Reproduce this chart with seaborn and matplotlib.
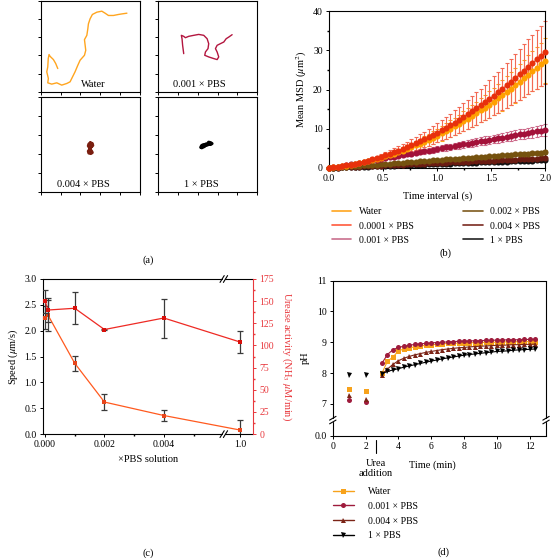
import seaborn as sns
import pandas as pd
import matplotlib.pyplot as plt
from matplotlib.lines import Line2D

# ---------------- (a) trajectories (box units 0-100) ----------------
water_x = [17.2, 15.1, 12.8, 9.4, 8.4, 7.6, 7.1, 6.1, 7.7, 7.1, 11.1, 16.2, 21.2, 26.3, 29.6, 31.3,
           34.6, 37.4, 39.7, 44.1, 45.4, 44.8, 44.1, 46.5, 47.5, 48.1, 49.8, 52.1, 56.6, 61.6,
           64.9, 68.3, 73.3, 78.4, 82.4, 86.9]
water_y = [25.7, 31.2, 35.5, 39.1, 41.0, 36.6, 27.5, 22.1, 14.9, 10.1, 8.7, 10.1, 7.6, 9.4, 11.2, 14.9,
           22.1, 29.3, 34.8, 40.2, 45.6, 51.1, 57.3, 62.0, 69.2, 74.6, 80.1, 84.8, 87.3, 88.4,
           86.2, 83.7, 83.7, 84.8, 85.5, 86.2]
p001_x = [25.9, 24.8, 24.2, 23.5, 25.9, 27.6, 30.9, 36.0, 41.0, 46.1, 49.5, 51.1, 50.4, 47.8,
          47.1, 51.1, 56.2, 59.6, 61.2, 59.6, 57.9, 59.6, 62.9, 66.3, 68.7, 71.3, 74.7]
p001_y = [42.0, 51.1, 58.3, 62.0, 60.9, 59.4, 60.9, 62.0, 63.0, 62.0, 58.3, 52.9, 47.5, 43.8,
          40.2, 38.4, 36.6, 35.5, 38.4, 43.8, 47.5, 51.1, 52.9, 54.7, 58.3, 60.1, 62.7]
p004_x = [50, 52, 52.5, 51, 49, 48, 48.5, 50, 51.5, 50.5, 49.5, 48, 48.5, 50.5, 52, 51, 49, 50]
p004_y = [52, 51, 49, 47.5, 47, 48.5, 50.5, 51.5, 50, 47, 45, 43, 41, 40.5, 41.5, 43.5, 42.5, 44]
p1_x = [43, 44, 46, 47, 48, 50, 51, 53, 54.5, 53, 51, 50, 48, 46, 44]
p1_y = [47, 49, 50, 48.5, 50.5, 51, 52.5, 52, 51, 50, 50.5, 49.5, 49, 47.5, 46.5]

# ---------------- (b) mean MSD ----------------
t_msd = [0.00, 0.04, 0.08, 0.12, 0.16, 0.20, 0.24, 0.28, 0.32, 0.36,
         0.40, 0.44, 0.48, 0.52, 0.56, 0.60, 0.64, 0.68, 0.72, 0.76,
         0.80, 0.84, 0.88, 0.92, 0.96, 1.00, 1.04, 1.08, 1.12, 1.16,
         1.20, 1.24, 1.28, 1.32, 1.36, 1.40, 1.44, 1.48, 1.52, 1.56,
         1.60, 1.64, 1.68, 1.72, 1.76, 1.80, 1.84, 1.88, 1.92, 1.96,
         2.00]
msd_water = [0.00, 0.12, 0.26, 0.41, 0.58, 0.77, 0.98, 1.21, 1.44, 1.71,
             1.99, 2.28, 2.59, 2.93, 3.28, 3.64, 4.03, 4.43, 4.85, 5.29,
             5.74, 6.21, 6.71, 7.21, 7.74, 8.28, 8.84, 9.42, 10.02, 10.63,
             11.26, 11.91, 12.58, 13.26, 13.97, 14.68, 15.42, 16.17, 16.95, 17.74,
             18.55, 19.38, 20.21, 21.08, 21.96, 22.85, 23.76, 24.70, 25.55, 26.40,
             27.30]
err_water = [0.00, 0.03, 0.05, 0.09, 0.12, 0.16, 0.21, 0.25, 0.30, 0.36,
             0.42, 0.48, 0.54, 0.62, 0.69, 0.76, 0.85, 0.93, 1.02, 1.11,
             1.21, 1.30, 1.41, 1.51, 1.63, 1.74, 1.86, 1.98, 2.10, 2.23,
             2.36, 2.50, 2.64, 2.78, 2.93, 3.08, 3.24, 3.40, 3.56, 3.73,
             3.90, 4.07, 4.24, 4.43, 4.61, 4.80, 4.99, 5.19, 5.37, 5.54,
             5.73]
msd_p0001 = [0.00, 0.13, 0.28, 0.45, 0.63, 0.84, 1.07, 1.31, 1.57, 1.86,
             2.16, 2.48, 2.82, 3.18, 3.56, 3.96, 4.38, 4.81, 5.27, 5.75,
             6.24, 6.75, 7.29, 7.84, 8.41, 9.00, 9.61, 10.24, 10.89, 11.55,
             12.24, 12.95, 13.67, 14.41, 15.18, 15.96, 16.76, 17.58, 18.42, 19.28,
             20.16, 21.06, 21.97, 22.91, 23.87, 24.84, 25.83, 26.80, 27.70, 28.60,
             29.50]
err_p0001 = [0.00, 0.03, 0.07, 0.12, 0.17, 0.23, 0.29, 0.35, 0.42, 0.50,
             0.58, 0.67, 0.76, 0.86, 0.96, 1.07, 1.18, 1.30, 1.42, 1.55,
             1.68, 1.82, 1.97, 2.12, 2.27, 2.43, 2.60, 2.76, 2.94, 3.12,
             3.30, 3.50, 3.69, 3.89, 4.10, 4.31, 4.53, 4.75, 4.97, 5.21,
             5.44, 5.69, 5.93, 6.19, 6.44, 6.71, 6.97, 7.24, 7.48, 7.72,
             7.97]
msd_p001 = [0.00, 0.18, 0.37, 0.56, 0.75, 0.94, 1.13, 1.32, 1.52, 1.71,
            1.91, 2.10, 2.30, 2.49, 2.69, 2.88, 3.08, 3.27, 3.47, 3.66,
            3.86, 4.05, 4.25, 4.44, 4.64, 4.83, 5.03, 5.22, 5.42, 5.61,
            5.81, 6.00, 6.20, 6.39, 6.59, 6.78, 6.98, 7.17, 7.37, 7.56,
            7.76, 7.95, 8.15, 8.34, 8.54, 8.73, 8.93, 9.12, 9.32, 9.51,
            9.71]
err_p001 = [0.00, 0.03, 0.06, 0.08, 0.11, 0.14, 0.17, 0.20, 0.23, 0.26,
            0.29, 0.32, 0.35, 0.37, 0.40, 0.43, 0.46, 0.49, 0.52, 0.55,
            0.58, 0.61, 0.64, 0.67, 0.70, 0.72, 0.75, 0.78, 0.81, 0.84,
            0.87, 0.90, 0.93, 0.96, 0.99, 1.02, 1.05, 1.08, 1.10, 1.13,
            1.16, 1.19, 1.22, 1.25, 1.28, 1.31, 1.34, 1.37, 1.40, 1.43,
            1.46]
msd_p002 = [0.00, 0.08, 0.16, 0.24, 0.32, 0.40, 0.48, 0.56, 0.64, 0.72,
            0.80, 0.88, 0.96, 1.04, 1.12, 1.20, 1.28, 1.36, 1.44, 1.52,
            1.60, 1.68, 1.76, 1.84, 1.92, 2.00, 2.08, 2.16, 2.24, 2.32,
            2.40, 2.48, 2.56, 2.64, 2.72, 2.80, 2.88, 2.96, 3.04, 3.12,
            3.20, 3.28, 3.36, 3.44, 3.52, 3.60, 3.68, 3.76, 3.84, 3.92,
            4.00]
err_p002 = [0.00, 0.01, 0.02, 0.03, 0.04, 0.05, 0.06, 0.07, 0.08, 0.09,
            0.10, 0.11, 0.12, 0.13, 0.13, 0.14, 0.15, 0.16, 0.17, 0.18,
            0.19, 0.20, 0.21, 0.22, 0.23, 0.24, 0.25, 0.26, 0.27, 0.28,
            0.29, 0.30, 0.31, 0.32, 0.33, 0.34, 0.35, 0.36, 0.36, 0.37,
            0.38, 0.39, 0.40, 0.41, 0.42, 0.43, 0.44, 0.45, 0.46, 0.47,
            0.48]
msd_p004 = [0.00, 0.05, 0.10, 0.15, 0.20, 0.25, 0.30, 0.35, 0.40, 0.45,
            0.50, 0.55, 0.60, 0.65, 0.70, 0.75, 0.80, 0.85, 0.90, 0.95,
            1.00, 1.05, 1.10, 1.15, 1.20, 1.25, 1.30, 1.35, 1.40, 1.45,
            1.50, 1.55, 1.60, 1.65, 1.70, 1.75, 1.80, 1.85, 1.90, 1.95,
            2.00, 2.05, 2.10, 2.15, 2.20, 2.25, 2.30, 2.35, 2.40, 2.45,
            2.50]
msd_p1 = [0.00, 0.04, 0.08, 0.12, 0.16, 0.20, 0.24, 0.28, 0.32, 0.36,
          0.40, 0.44, 0.48, 0.52, 0.56, 0.60, 0.64, 0.68, 0.72, 0.76,
          0.80, 0.84, 0.88, 0.92, 0.96, 1.00, 1.04, 1.08, 1.12, 1.16,
          1.20, 1.24, 1.28, 1.32, 1.36, 1.40, 1.44, 1.48, 1.52, 1.56,
          1.60, 1.64, 1.68, 1.72, 1.76, 1.80, 1.84, 1.88, 1.92, 1.96,
          2.00]
err_small = [0.00, 0.01, 0.01, 0.02, 0.02, 0.03, 0.03, 0.04, 0.04, 0.05,
             0.05, 0.06, 0.06, 0.07, 0.07, 0.08, 0.08, 0.09, 0.09, 0.10,
             0.10, 0.11, 0.11, 0.12, 0.12, 0.13, 0.13, 0.14, 0.14, 0.15,
             0.15, 0.16, 0.16, 0.17, 0.17, 0.18, 0.18, 0.19, 0.19, 0.20,
             0.20, 0.21, 0.21, 0.22, 0.22, 0.23, 0.23, 0.24, 0.24, 0.25,
             0.25]

# ---------------- (c) speed / urease ----------------
pbs_conc = [0, 0.0001, 0.001, 0.002, 0.004, 1.0]
speed = [2.25, 2.30, 1.37, 0.62, 0.36, 0.08]
speed_err = [0.22, 0.30, 0.14, 0.15, 0.10, 0.20]
urease = [150, 140, 142, 118, 131, 104]
urease_err = [13, 14, 18, 1, 22, 12]
x_ticklabels_c = ['0.000', '0.002', '0.004', '1.0']

# ---------------- (d) pH ----------------
t_pre = [1, 2]
t_post = [3.00, 3.33, 3.67, 4.00, 4.33, 4.67, 5.00, 5.33, 5.67, 6.00,
          6.33, 6.67, 7.00, 7.33, 7.67, 8.00, 8.33, 8.67, 9.00, 9.33,
          9.67, 10.00, 10.33, 10.67, 11.00, 11.33, 11.67, 12.00, 12.33]
ph_pre_water = [7.49, 7.41]
ph_pre_p001 = [7.13, 7.05]
ph_pre_p004 = [7.29, 7.14]
ph_pre_p1 = [7.92, 7.92]
ph_water = [8.00, 8.38, 8.52, 8.72, 8.78, 8.82, 8.85, 8.88, 8.90, 8.92,
            8.93, 8.95, 8.96, 8.97, 8.97, 8.98, 8.98, 8.99, 8.99, 9.00,
            9.00, 9.00, 9.01, 9.01, 9.01, 9.02, 9.02, 9.02, 9.02]
ph_p001 = [8.32, 8.60, 8.76, 8.83, 8.87, 8.90, 8.93, 8.95, 8.96, 8.98,
           8.99, 9.00, 9.01, 9.02, 9.03, 9.04, 9.04, 9.05, 9.05, 9.06,
           9.06, 9.07, 9.07, 9.08, 9.08, 9.08, 9.09, 9.09, 9.10]
ph_p004 = [7.95, 8.13, 8.28, 8.40, 8.48, 8.54, 8.59, 8.63, 8.67, 8.70,
           8.73, 8.76, 8.78, 8.80, 8.82, 8.83, 8.85, 8.86, 8.87, 8.88,
           8.89, 8.90, 8.90, 8.91, 8.92, 8.92, 8.93, 8.93, 8.94]
ph_p1 = [7.98, 8.05, 8.10, 8.14, 8.19, 8.23, 8.27, 8.31, 8.35, 8.39,
         8.42, 8.46, 8.49, 8.52, 8.55, 8.58, 8.60, 8.62, 8.64, 8.66,
         8.68, 8.70, 8.71, 8.72, 8.74, 8.75, 8.76, 8.77, 8.78]

sns.set_theme(style="ticks")
plt.rcParams['font.family'] = ['Liberation Serif', 'DejaVu Serif']
plt.rcParams['mathtext.fontset'] = 'stix'
plt.rcParams.update({
    'axes.edgecolor': 'black', 'axes.linewidth': 0.8,
    'xtick.color': 'black', 'ytick.color': 'black',
    'xtick.labelsize': 7, 'ytick.labelsize': 7,
    'xtick.major.size': 2.5, 'ytick.major.size': 2.5,
    'xtick.minor.size': 1.5, 'ytick.minor.size': 1.5,
    'xtick.major.width': 0.7, 'ytick.major.width': 0.7,
    'xtick.major.pad': 2, 'ytick.major.pad': 2,
    'axes.labelsize': 7.5, 'text.color': 'black', 'axes.labelcolor': 'black',
})

fig = plt.figure(figsize=(5.51, 5.58), dpi=100)

# ---------- panel a ----------
def traj_box(rect, xs, ys, color, lw, label, lx):
    ax = fig.add_axes(rect)
    sns.lineplot(x=xs, y=ys, sort=False, estimator=None, color=color, lw=lw, ax=ax)
    ax.set_xlim(0, 100)
    ax.set_ylim(0, 100)
    ax.set_xticks(range(0, 101, 20))
    ax.set_yticks(range(0, 101, 20))
    ax.set_xticklabels([])
    ax.set_yticklabels([])
    ax.text(lx, 3, label, ha='center', va='bottom', fontsize=7.5)

traj_box([0.0739, 0.835, 0.180, 0.164], water_x, water_y, '#FFA51F', 1.0, 'Water', 53)
traj_box([0.2868, 0.835, 0.180, 0.164], p001_x, p001_y, '#B3163F', 1.0, '0.001 × PBS', 42)
traj_box([0.0739, 0.656, 0.180, 0.170], p004_x, p004_y, '#7A1E10', 2.2, '0.004 × PBS', 43)
traj_box([0.2868, 0.656, 0.180, 0.170], p1_x, p1_y, '#000000', 2.2, '1 × PBS', 44)
fig.text(148 / 551, 1 - 260 / 558, '(a)', ha='center', va='center', fontsize=7.5)

# ---------- panel b ----------
ax_b = fig.add_axes([0.597, 0.699, 0.393, 0.281])
msd_series = [
    ('1 × PBS', msd_p1, err_small, '#111111', '#444444'),
    ('0.004 × PBS', msd_p004, err_small, '#6A1B12', '#8A3B2B'),
    ('0.002 × PBS', msd_p002, err_p002, '#75520F', '#8C6A2E'),
    ('0.001 × PBS', msd_p001, err_p001, '#A3123A', '#CC6A8A'),
    ('Water', msd_water, err_water, '#FFA000', '#FFA41B'),
    ('0.0001 × PBS', msd_p0001, err_p0001, '#E8300C', '#F26A55'),
]
for name, y, e, c, ec in msd_series:
    ax_b.errorbar(t_msd, y, yerr=e, fmt='none', ecolor=ec, elinewidth=0.8, capsize=1.6,
                  capthick=0.8, clip_on=False, zorder=2)
    sns.lineplot(x=t_msd, y=y, ax=ax_b, color=c, marker='o', markersize=4.4,
                 markeredgewidth=0, linewidth=0.6, clip_on=False, zorder=3)
ax_b.set_xlim(0, 2)
ax_b.set_ylim(0, 40)
ax_b.set_xticks([0, 0.5, 1.0, 1.5, 2.0])
ax_b.set_xticklabels(['0.0', '0.5', '1.0', '1.5', '2.0'])
ax_b.set_xticks([0.25, 0.75, 1.25, 1.75], minor=True)
ax_b.set_yticks([0, 10, 20, 30, 40])
ax_b.set_yticks([5, 15, 25, 35], minor=True)
ax_b.set_xlabel('Time interval (s)', labelpad=6)
ax_b.set_ylabel(r'Mean MSD ($\mu$m$^2$)', labelpad=3)

leg_b_labels = ['Water', '0.0001 × PBS', '0.001 × PBS', '0.002 × PBS', '0.004 × PBS', '1 × PBS']
leg_b_colors = ['#FFA51F', '#FF5A3C', '#C9708E', '#7E5A1E', '#7A2A20', '#222222']
handles_b = [Line2D([], [], color=c, lw=1.2) for c in leg_b_colors]
ax_b.legend(handles_b, leg_b_labels, ncol=2, frameon=False, loc='upper left',
            bbox_to_anchor=(0.012, -0.25), borderaxespad=0, borderpad=0,
            handlelength=2.0, handletextpad=0.8, columnspacing=5.1, labelspacing=0.55,
            fontsize=7)
fig.text(445 / 551, 1 - 253 / 558, '(b)', ha='center', va='center', fontsize=7.5)

# ---------- panel c ----------
x_one = 0.00656
x_c = [c if c < 0.01 else x_one for c in pbs_conc]
ax_c = fig.add_axes([0.078, 0.222, 0.381, 0.278])
ax_c2 = ax_c.twinx()
ax_c.errorbar(x_c, speed, yerr=speed_err, fmt='none', ecolor='#3a3a3a', elinewidth=0.9,
              capsize=2, capthick=0.9, zorder=2)
sns.lineplot(x=x_c, y=speed, ax=ax_c, color='#FF5A1F', marker='s', markersize=3.2,
             markeredgewidth=0, markerfacecolor='#E8461C', linewidth=0.9, zorder=3)
ax_c2.errorbar(x_c, urease, yerr=urease_err, fmt='none', ecolor='#3a3a3a', elinewidth=0.9,
               capsize=2, capthick=0.9, zorder=2)
sns.lineplot(x=x_c, y=urease, ax=ax_c2, color='#EE2A24', marker='s', markersize=3.2,
             markeredgewidth=0, markerfacecolor='#D8100B', linewidth=0.9, zorder=3)
xl = (-0.00007, 0.0070)
ax_c.set_xlim(xl)
ax_c.set_ylim(0, 3)
ax_c2.set_ylim(0, 175)
ax_c.set_xticks([0, 0.002, 0.004, x_one])
ax_c.set_xticklabels(x_ticklabels_c)
ax_c.set_xticks([0.001, 0.003, 0.005], minor=True)
ax_c.set_yticks([0, 0.5, 1.0, 1.5, 2.0, 2.5, 3.0])
ax_c.set_yticklabels(['0.0', '0.5', '1.0', '1.5', '2.0', '2.5', '3.0'])
ax_c2.set_yticks(range(0, 176, 25))
ax_c2.set_yticks([12.5 + 25 * i for i in range(7)], minor=True)
red = '#E8383D'
ax_c2.tick_params(axis='y', which='both', colors=red, labelcolor=red)
ax_c2.spines['right'].set_color(red)
for s in ['top', 'bottom', 'right']:
    ax_c.spines[s].set_visible(False)
for s in ['top', 'bottom', 'left']:
    ax_c2.spines[s].set_visible(False)
ax_c.set_xlabel('×PBS solution', labelpad=4)
ax_c.set_ylabel(r'Speed ($\mu$m/s)', labelpad=3)
ax_c2.set_ylabel(r'Urease activity (NH$_3$ $\mu$M/min)', color=red, rotation=270, labelpad=14)
ax_c2.set_xlabel('')
# broken x axis
bx = (0.00602 - xl[0]) / (xl[1] - xl[0])
g = 0.008
for yy in (0, 1):
    ax_c.plot([0, bx - g], [yy, yy], transform=ax_c.transAxes, color='black', lw=0.8, clip_on=False)
    ax_c.plot([bx + g, 1], [yy, yy], transform=ax_c.transAxes, color='black', lw=0.8, clip_on=False)
    for xx in (bx - g, bx + g):
        ax_c.plot([xx - 0.01, xx + 0.01], [yy - 0.022, yy + 0.022], transform=ax_c.transAxes,
                  color='black', lw=0.8, clip_on=False)
fig.text(148 / 551, 1 - 553 / 558, '(c)', ha='center', va='center', fontsize=7.5)

# ---------- panel d ----------
ax_d = fig.add_axes([0.604, 0.219, 0.387, 0.278])
ph_series = [
    ('Water', ph_pre_water, ph_water, '#F7A21B', 's'),
    ('0.001 × PBS', ph_pre_p001, ph_p001, '#9E1B3C', 'o'),
    ('0.004 × PBS', ph_pre_p004, ph_p004, '#7B2417', '^'),
    ('1 × PBS', ph_pre_p1, ph_p1, '#000000', 'v'),
]
for name, pre, post, c, m in ph_series:
    sns.lineplot(x=t_post, y=post, ax=ax_d, color=c, marker=m, markersize=3.6,
                 markeredgewidth=0, linewidth=0.8)
    ax_d.plot(t_pre, pre, linestyle='none', marker=m, color=c, markersize=3.6, markeredgewidth=0)
y0 = 5.96
ax_d.set_xlim(0, 13)
ax_d.set_ylim(y0, 11)
ax_d.set_xticks(range(0, 13, 2))
ax_d.set_yticks([y0, 7, 8, 9, 10, 11])
ax_d.set_yticklabels(['0.0', '7', '8', '9', '10', '11'])
ax_d.set_ylabel('pH', labelpad=3)
ax_d.set_xlabel('')
for s in ['left', 'right']:
    ax_d.spines[s].set_visible(False)
by = (6.47 - y0) / (11 - y0)
gy = 0.012
for xx in (0, 1):
    ax_d.plot([xx, xx], [0, by - gy], transform=ax_d.transAxes, color='black', lw=0.8, clip_on=False)
    ax_d.plot([xx, xx], [by + gy, 1], transform=ax_d.transAxes, color='black', lw=0.8, clip_on=False)
    for yy in (by - gy, by + gy):
        ax_d.plot([xx - 0.015, xx + 0.015], [yy - 0.012, yy + 0.012], transform=ax_d.transAxes,
                  color='black', lw=0.8, clip_on=False)
ax_d.plot([2.62, 2.62], [-0.026, -0.11], transform=ax_d.get_xaxis_transform(),
          color='black', lw=0.8, clip_on=False)
ax_d.text(2.62, -0.21, 'Urea\naddition', transform=ax_d.get_xaxis_transform(),
          ha='center', va='center', fontsize=7.5, linespacing=1.1)
ax_d.text(6.08, -0.19, 'Time (min)', transform=ax_d.get_xaxis_transform(),
          ha='center', va='center', fontsize=7.5)
handles_d = [Line2D([], [], color=c, marker=m, markersize=3.6, markeredgewidth=0, lw=1.0)
             for _, _, _, c, m in ph_series]
ax_d.legend(handles_d, [s[0] for s in ph_series], frameon=False, loc='upper left',
            bbox_to_anchor=(0.0, -0.33), borderaxespad=0, borderpad=0,
            handlelength=2.2, handletextpad=1.4, labelspacing=0.6, fontsize=7)
fig.text(443 / 551, 1 - 552 / 558, '(d)', ha='center', va='center', fontsize=7.5)

fig.savefig('out.png', dpi=100)
